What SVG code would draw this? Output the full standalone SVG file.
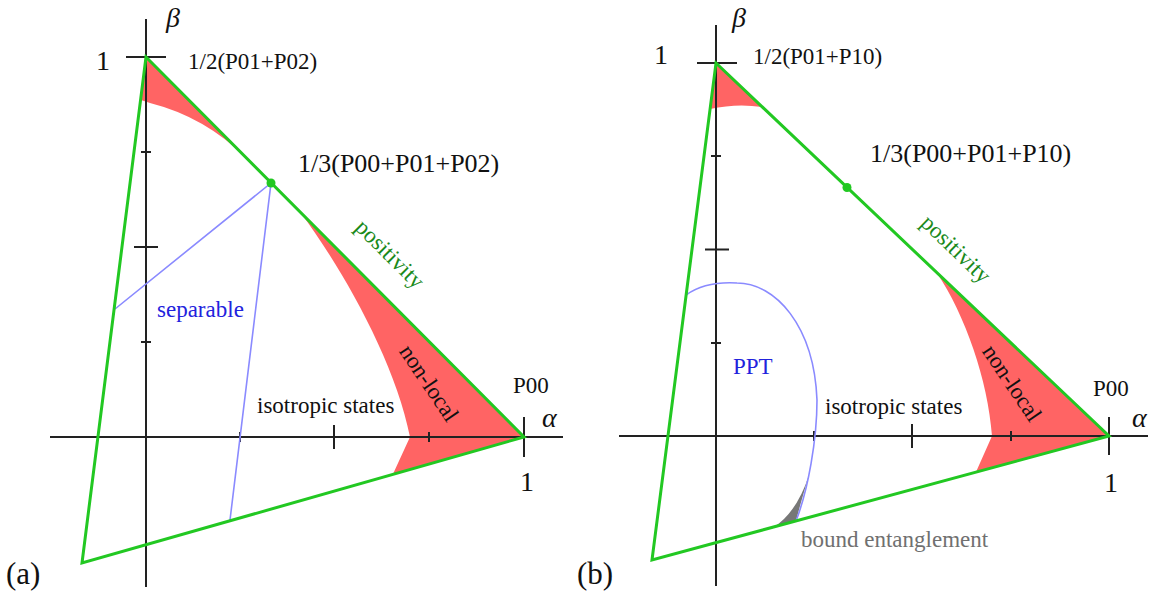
<svg xmlns="http://www.w3.org/2000/svg" width="1159" height="599" viewBox="0 0 1159 599">
<style>
text{font-family:"Liberation Serif","Times New Roman",serif;fill:#111}
.lbl{font-size:23px}
.big{font-size:26px}
.tag{font-size:31px}
.num{font-size:28px}
.it{font-size:28px;font-style:italic}
.pos{font-size:23px;fill:#1a8a1a}
.blue{font-size:23px;fill:#2222dd}
.gray{font-size:23px;fill:#707070}
.ax{stroke:#222;stroke-width:2;fill:none}
.tri{stroke:#22c822;stroke-width:3;fill:none;stroke-linejoin:miter}
.red{fill:#ff6464;stroke:none}
.bl{stroke:#8a8aff;stroke-width:1.6;fill:none}
.dot{fill:#22c822}
</style>
<rect width="1159" height="599" fill="#fff"/>

<g id="panel-a">
  <g id="a-regions">
    <path class="red" d="M146,57 L245,157 Q205,117 150,103 L141,100 Z"/>
    <path class="red" d="M300,212 C340,265 395,360 410,437 L393,474 L523,437 Z"/>
  </g>
  <g id="a-axes">
    <path class="ax" d="M50,437 H563 M146,19 V587"/>
    <path class="ax" d="M240,432 V442 M334,425 V449 M429,432 V442 M524,417 V457"/>
    <path class="ax" d="M126,57 H166 M134,247 H158 M141,152 H151 M141,342 H151"/>
  </g>
  <g id="a-separable">
    <path class="bl" d="M115,309 L271,183 L230,520"/>
  </g>
  <g id="a-positivity">
    <path class="tri" d="M146,57 L524,437 L82,563 Z"/>
    <circle class="dot" cx="271" cy="183" r="4.5"/>
  </g>
  <g id="a-labels">
    <text class="it" x="166" y="27">β</text>
    <text class="num" x="96" y="70">1</text>
    <text class="lbl" x="188" y="69">1/2(P01+P02)</text>
    <text class="big" x="298" y="172">1/3(P00+P01+P02)</text>
    <text class="pos" x="390" y="254" text-anchor="middle" dominant-baseline="central" transform="rotate(45 390 254)">positivity</text>
    <text class="blue" x="157" y="317">separable</text>
    <text class="lbl" x="429" y="383" text-anchor="middle" dominant-baseline="central" transform="rotate(56 429 383)">non-local</text>
    <text class="lbl" x="513" y="393">P00</text>
    <text class="it" x="542" y="427">α</text>
    <text class="num" x="520" y="491">1</text>
    <text class="lbl" x="257" y="413">isotropic states</text>
    <text class="tag" x="6" y="584">(a)</text>
  </g>
</g>

<g id="panel-b">
  <g id="b-regions">
    <path class="red" d="M716,63 L762,107 Q737,103 710,109 Z"/>
    <path class="red" d="M937,273 C965,315 988,380 992,436 L976,472 L1109,436 Z"/>
    <path d="M809,475 Q800,505 796,521 L774,527 Q797,512 809,475 Z" fill="#777"/>
  </g>
  <g id="b-axes">
    <path class="ax" d="M619,436 H1148 M716,25 V586"/>
    <path class="ax" d="M814,431 V441 M912,424 V448 M1011,431 V441 M1109,417 V455"/>
    <path class="ax" d="M697,63 H737 M705,249.5 H729 M711,156 H721 M711,343 H721"/>
  </g>
  <g id="b-ppt">
    <path class="bl" stroke-width="2" d="M686,295 C700,285 720,282 737,283 C775,283 814,325 817,400 C817,440 808,490 796,521"/>
  </g>
  <g id="b-positivity">
    <path class="tri" d="M716,63 L1109,436 L652,560 Z"/>
    <circle class="dot" cx="847" cy="187.5" r="4.5"/>
  </g>
  <g id="b-labels">
    <text class="it" x="732" y="27">β</text>
    <text class="num" x="654" y="64">1</text>
    <text class="lbl" x="753" y="64">1/2(P01+P10)</text>
    <text class="big" x="870" y="162">1/3(P00+P01+P10)</text>
    <text class="pos" x="956" y="249" text-anchor="middle" dominant-baseline="central" transform="rotate(44 956 249)">positivity</text>
    <text class="blue" x="733" y="374">PPT</text>
    <text class="lbl" x="1012" y="383" text-anchor="middle" dominant-baseline="central" transform="rotate(56 1012 383)">non-local</text>
    <text class="lbl" x="1093" y="396">P00</text>
    <text class="it" x="1132" y="427">α</text>
    <text class="num" x="1104" y="492">1</text>
    <text class="lbl" x="825" y="414">isotropic states</text>
    <text class="gray" x="801" y="547">bound entanglement</text>
    <text class="tag" x="577" y="584">(b)</text>
  </g>
</g>
</svg>
